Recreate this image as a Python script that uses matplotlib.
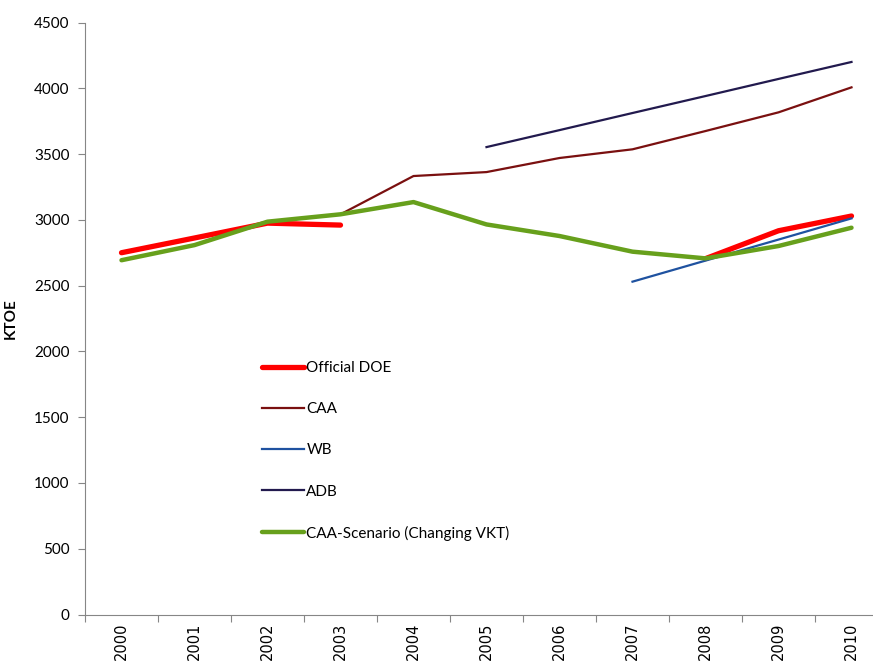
import numpy as np
import matplotlib.pyplot as plt

years = ['2000', '2001', '2002', '2003', '2004', '2005',
         '2006', '2007', '2008', '2009', '2010']
nan = np.nan

# KTOE estimates by source
official_doe = [2750, 2862, 2975, 2960, nan, nan, nan, nan, 2705, 2917, 3029]
caa = [2693, 2808, 2986, 3042, 3333, 3363, 3470, 3536, 3675, 3817, 4007]
wb = [nan, nan, nan, nan, nan, nan, nan, 2530, 2690, 2850, 3011]
adb = [nan, nan, nan, nan, nan, 3553, 3682, 3812, 3941, 4071, 4200]
caa_scenario = [2693, 2808, 2986, 3042, 3135, 2965, 2877, 2758, 2707, 2801, 2940]

plt.rcParams['font.family'] = ['Lato', 'DejaVu Sans']

fig = plt.figure(figsize=(8.73, 6.61), dpi=100)
ax = fig.add_axes([85 / 873, 46.5 / 661, 803 / 873, 592 / 661])

x = np.arange(len(years))
ax.plot(x, official_doe, color='#ff0000', lw=3.8, solid_capstyle='round', label='Official DOE')
ax.plot(x, caa, color='#7a1010', lw=1.6, label='CAA')
ax.plot(x, wb, color='#1f52a0', lw=1.6, label='WB')
ax.plot(x, adb, color='#221a4e', lw=1.6, label='ADB')
ax.plot(x, caa_scenario, color='#67a01c', lw=3.2, solid_capstyle='round',
        label='CAA-Scenario (Changing VKT)')

ax.set_xlim(-0.5, len(years) - 0.5)
ax.set_ylim(0, 4500)
ax.set_yticks(range(0, 4501, 500))

# category boundaries get the tick marks, labels sit at the centres
ax.set_xticks(np.arange(-0.5, len(years), 1.0))
ax.set_xticklabels([])
ax.set_xticks(x, minor=True)
ax.set_xticklabels(years, minor=True, rotation=90, fontsize=10.5,
                   family='DejaVu Sans')
ax.tick_params(axis='x', which='minor', length=0, pad=6)
ax.tick_params(axis='x', which='major', length=5, color='#868686')
ax.tick_params(axis='y', length=5, color='#868686', labelsize=11, pad=6)

for side in ['top', 'right']:
    ax.spines[side].set_visible(False)
for side in ['left', 'bottom']:
    ax.spines[side].set_color('#868686')

ax.set_ylabel('KTOE', fontsize=11, fontweight='bold', labelpad=12)

ax.legend(loc='upper left', bbox_to_anchor=(262 / 873, 1 - 361 / 661),
          bbox_transform=fig.transFigure, frameon=False, fontsize=11,
          labelspacing=1.78, handlelength=2.75, handletextpad=0.15,
          borderpad=0, borderaxespad=0)

fig.savefig('out.png', dpi=100)
